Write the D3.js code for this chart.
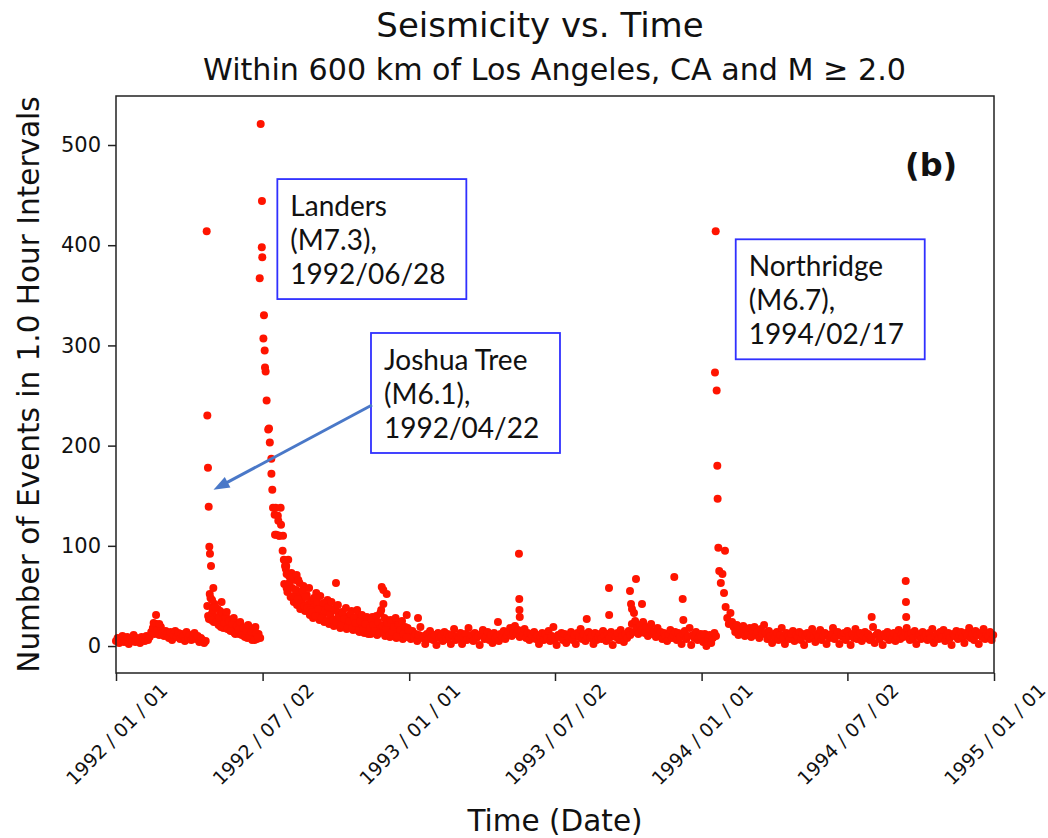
<!DOCTYPE html>
<html>
<head>
<meta charset="utf-8">
<script src="https://cdn.jsdelivr.net/npm/d3@7"></script>
<style>
  body { margin: 0; background: #fff; }
  text { font-family: "DejaVu Sans", sans-serif; fill: #111; }
  .note text { font-family: Lato, "Open Sans", sans-serif; }
</style>
</head>
<body>
<div id="container"></div>
<script>
// hourly event counts, one value every 2 days from Jan 1 of each year
var counts1992 = [
  5, 8, 3, 7, 10, 4, 6, 9, 2, 7, 5, 11, 4, 8, 6, 3, 9, 7, 5, 10, 6,
  9, 14, 18, 12, 22, 16, 11, 19, 13, 10, 15,
  12, 8, 14, 6, 11, 15, 9, 13, 7, 12, 10, 5, 14, 8, 11, 6, 9, 13, 7, 10, 4, 8, 6, 3, 5,
  40, 27, 48, 33, 24, 38,
  29, 21, 35, 25, 18, 31, 22, 27,
  16, 26, 19, 13, 23, 17, 12, 21, 14, 10,
  18, 8, 13, 16, 6, 11, 19, 7, 12,
  8, 398, 307, 278, 245, 216, 203, 172, 138, 131, 111, 130, 110, 121, 95,
  62, 77, 54, 70, 49,
  58, 44, 66, 41, 52, 37,
  47, 60, 35, 51, 42, 31,
  45, 28, 39, 53, 33, 26,
  41, 30, 24, 36, 46, 22, 33, 27,
  20, 38, 25, 31, 18, 34, 23, 28, 17, 30,
  21, 35, 16, 26, 19, 30, 14, 24, 20, 13, 27, 17,
  22, 12, 29, 16, 25, 11, 19, 33, 14, 21, 10, 26, 15,
  9, 20, 13, 24, 8, 17, 12, 22, 7, 15, 11, 18
]
var counts1993 = [
  13, 7, 15, 9, 12, 5, 11, 19, 8, 10, 2, 12, 7, 15, 9, 6, 11, 1, 13, 8,
  10, 5, 14, 7, 12, 9, 2, 11, 17, 6, 10, 8, 13, 2, 9, 12, 6, 18, 7, 11,
  5, 13, 8, 10, 1, 12, 16, 7, 9, 14, 6, 11, 3, 13, 8, 10, 5, 12, 9, 15,
  7, 11, 14, 18, 10, 13, 20, 12, 16, 9, 15, 11, 17, 8, 13, 6, 12, 10, 14, 7,
  11, 2, 9, 13, 6, 12, 8, 15, 5, 10, 19, 7, 1, 11, 9, 13, 6, 12, 3, 10,
  8, 14, 6, 11, 2, 13, 9, 17, 7, 12, 5, 10, 14, 8, 11, 2, 13, 6, 9, 12,
  7, 15, 10, 5, 12, 8, 14, 1, 11, 9, 13, 6, 16, 10, 4, 12, 8, 15, 11, 22,
  14, 25, 18, 12, 21, 16, 24, 13, 19, 10, 17, 22, 12, 15, 9, 18, 11, 14, 7, 13,
  10, 5, 12, 16, 8, 11, 14, 6, 13, 9, 2, 12, 15, 7, 10, 18, 1, 11, 8, 14, 6, 9, 12
]
var counts1994 = [
  9, 4, 12, 0, 7, 11, 3, 8, 13, 10,
  147, 75, 63, 72, 53, 39, 28, 22, 33, 24,
  19, 14, 21, 11, 17, 13, 20, 10, 16, 12, 18, 9, 15, 19, 11, 14, 8, 17, 12, 21,
  13, 7, 15, 10, 3, 12, 9, 14, 6, 11, 18, 8, 2, 13, 10, 7, 12, 15, 5, 11,
  9, 14, 6, 12, 1, 10, 13, 7, 11, 17, 8, 4, 12, 9, 16, 6, 10, 13, 2, 11,
  8, 12, 18, 7, 10, 14, 2, 11, 9, 13, 6, 15, 10, 1, 12, 8, 17, 7, 11, 13,
  5, 10, 14, 8, 12, 6, 9, 19, 3, 11, 13, 7, 10, 1, 12, 9, 14, 6, 11, 8,
  13, 5, 10, 16, 7, 12, 9, 14, 18, 11, 6, 13, 8, 15, 2, 10, 12, 7, 14, 9,
  11, 6, 13, 8, 17, 3, 10, 12, 7, 14, 9, 16, 5, 11, 13, 8, 1, 12, 10, 15,
  7, 11, 14, 9, 3, 13, 10, 18, 8, 12, 6, 15, 11, 2, 13, 9, 17, 7, 12, 10, 14, 6, 11
]

// upper scatter of the aftershock decays, every 2 days (days since 1992-01-01)
var joshuaTailStart = 115
var joshuaTail = [
  30, 52, 26, 36, 42,
  24, 37, 28, 19, 33, 23, 29, 17,
  25, 15, 22, 28, 12, 20, 16, 24, 11, 18,
  9, 15, 21, 10, 14, 17, 6, 13, 9
]
var landersTailStart = 211
var landersTail = [
  80, 58, 86, 64, 73,
  50, 69, 56, 47, 63, 43,
  55, 40, 49, 38, 58, 36,
  34, 48, 30, 44, 37, 50,
  28, 43, 35, 25, 39, 31, 44, 26,
  36, 24, 41, 29, 21, 33, 27, 38, 19, 25,
  32, 18, 28, 23, 36, 15, 25, 31, 17, 22, 29, 12,
  18, 27, 21, 15, 30, 24, 13, 36, 20, 28, 17, 23, 11,
  26, 14, 19, 28, 10, 21, 16, 25, 12, 19, 9, 16
]

// main shock spikes (days since 1992-01-01)
var joshuaTreeDays = [113.2, 114.0, 114.8, 115.7, 116.5, 117.3, 118.6, 121.5, 119.9, 131.8, 123.8, 138.2]
var joshuaTreeCounts = [414, 230, 178, 139, 99, 92, 80, 58, 46, 44, 39, 34]
var landersDays = [180.6, 182.2, 182.6, 179.4, 184.7, 185.6, 186.8, 191.0, 193.9, 195.1, 199.3, 205.5,
  202.6, 198.5, 203.5, 208.5, 209.5, 212.5, 213.0, 219.0, 225.5, 227.6, 274.6]
var landersCounts = [521, 444, 388, 367, 330, 295, 274, 217, 187, 156, 138, 138,
  125, 111, 110, 110, 86, 80, 72, 69, 71, 66, 63]
var northridgeDays = [748.6, 747.7, 749.8, 750.6, 751.9, 760.2]
var northridgeCounts = [414, 273, 255, 180, 98, 95]

// smaller bursts
var burstDays = [50, 47, 54, 331.7, 333.7, 337.9, 333.8, 362.9, 377, 476.8, 503, 503.4, 503.6, 504,
  587.6, 615.4, 615.6, 641.6, 649.1, 642.9, 644.1, 646.6, 656.6, 696.9, 707.4, 708.2, 943.3,
  985.8, 986.1, 986.4]
var burstCounts = [31, 23, 22, 59, 56, 52, 42, 31, 28, 24, 92, 47, 36, 29,
  27, 58, 31, 55, 67, 42, 37, 33, 42, 69, 47, 26, 29,
  65, 44, 29]

var tickDates = ["1992-01-01", "1992-07-02", "1993-01-01", "1993-07-02", "1994-01-01", "1994-07-02", "1995-01-01"]
var yTicks = [0, 100, 200, 300, 400, 500]

var notes = [
  {lines: ["Landers", "(M7.3),", "1992/06/28"], day: 201.4, count: 466},
  {lines: ["Joshua Tree", "(M6.1),", "1992/04/22"], day: 318.3, count: 312.4},
  {lines: ["Northridge", "(M6.7),", "1994/02/17"], day: 773.6, count: 405.9}
]

var t0 = Date.UTC(1992, 0, 1)
function dayToDate(d) { return new Date(t0 + d * 864e5) }

var points = []
;[[counts1992, 0], [counts1993, 366], [counts1994, 731]].forEach(function (yr) {
  yr[0].forEach(function (c, i) { points.push({day: yr[1] + 2 * i, count: c}) })
})
joshuaTail.forEach(function (c, i) { points.push({day: joshuaTailStart + 2 * i, count: c}) })
landersTail.forEach(function (c, i) { points.push({day: landersTailStart + 2 * i, count: c}) })
;[[joshuaTreeDays, joshuaTreeCounts], [landersDays, landersCounts],
  [northridgeDays, northridgeCounts], [burstDays, burstCounts]].forEach(function (p) {
  p[0].forEach(function (d, i) { points.push({day: d, count: p[1][i]}) })
})

var W = 1048, H = 838
var plot = {left: 116, right: 994, top: 96, bottom: 673}

var svg = d3.select("#container").append("svg")
  .attr("width", W)
  .attr("height", H)

var x = d3.scaleUtc()
  .domain([new Date(t0), new Date(Date.UTC(1995, 0, 1))])
  .range([plot.left, plot.right])
var y = d3.scaleLinear()
  .domain([-26.9, 548.9])
  .range([plot.bottom, plot.top])

// titles
svg.append("text")
  .attr("x", 540).attr("y", 37)
  .attr("text-anchor", "middle")
  .attr("font-size", 34)
  .text("Seismicity vs. Time")
svg.append("text")
  .attr("x", 203).attr("y", 80)
  .attr("font-size", 31)
  .attr("textLength", 703)
  .attr("lengthAdjust", "spacingAndGlyphs")
  .text("Within 600 km of Los Angeles, CA and M \u2265 2.0")

// points
svg.append("g").selectAll("circle")
  .data(points)
  .enter().append("circle")
    .attr("cx", function (d) { return x(dayToDate(d.day)) })
    .attr("cy", function (d) { return y(d.count) })
    .attr("r", 4)
    .attr("fill", "#ff1400")

// frame
svg.append("rect")
  .attr("x", plot.left).attr("y", plot.top)
  .attr("width", plot.right - plot.left).attr("height", plot.bottom - plot.top)
  .attr("fill", "none")
  .attr("stroke", "#222")
  .attr("stroke-width", 1.5)

// x axis
var xAxis = svg.append("g")
  .attr("transform", "translate(0," + plot.bottom + ")")
  .call(d3.axisBottom(x)
    .tickValues(tickDates.map(function (s) { return new Date(s + "T00:00:00Z") }))
    .tickSize(8)
    .tickFormat(d3.utcFormat("%Y / %m / %d")))
xAxis.select(".domain").remove()
xAxis.selectAll("line").attr("stroke", "#222").attr("stroke-width", 1.5)
xAxis.selectAll("text")
  .attr("font-size", 19)
  .attr("font-family", "DejaVu Sans")
  .attr("fill", "#111")
  .attr("text-anchor", "middle")
  .attr("dy", null)
  .attr("dominant-baseline", "central")
  .attr("y", 0)
  .attr("transform", "translate(0,61) rotate(-45)")

// y axis
var yAxis = svg.append("g")
  .attr("transform", "translate(" + plot.left + ",0)")
  .call(d3.axisLeft(y).tickValues(yTicks).tickSize(8).tickPadding(7))
yAxis.select(".domain").remove()
yAxis.selectAll("line").attr("stroke", "#222").attr("stroke-width", 1.5)
yAxis.selectAll("text")
  .attr("font-size", 21)
  .attr("font-family", "DejaVu Sans")
  .attr("fill", "#111")

svg.append("text")
  .attr("x", 555).attr("y", 831)
  .attr("text-anchor", "middle")
  .attr("font-size", 29.5)
  .text("Time (Date)")
svg.append("text")
  .attr("transform", "translate(39," + ((plot.top + plot.bottom) / 2) + ") rotate(-90)")
  .attr("text-anchor", "middle")
  .attr("font-size", 29.5)
  .text("Number of Events in 1.0 Hour Intervals")

// annotations
var boxW = 189, boxH = 120
var note = svg.selectAll(".note")
  .data(notes)
  .enter().append("g")
    .attr("class", "note")
    .attr("transform", function (d) { return "translate(" + x(dayToDate(d.day)) + "," + y(d.count) + ")" })
note.append("rect")
  .attr("width", boxW).attr("height", boxH)
  .attr("fill", "#fff")
  .attr("stroke", "#3030ff")
  .attr("stroke-width", 1.8)
note.each(function (d) {
  var g = d3.select(this)
  d.lines.forEach(function (s, i) {
    g.append("text")
      .attr("x", 13).attr("y", 37 + i * 34)
      .attr("font-size", 28)
      .text(s)
  })
})

svg.append("text")
  .attr("x", x(dayToDate(985))).attr("y", y(469))
  .attr("font-family", "Lato, sans-serif")
  .attr("font-weight", "bold")
  .attr("font-size", 32)
  .text("(b)")

// arrow to Joshua Tree
var ax0 = x(dayToDate(319.6)), ay0 = y(240.5)
var ax1 = x(dayToDate(121.7)), ay1 = y(156)
var ang = Math.atan2(ay1 - ay0, ax1 - ax0)
var headL = 16, headW = 6
svg.append("line")
  .attr("x1", ax0).attr("y1", ay0)
  .attr("x2", ax1 - Math.cos(ang) * (headL - 2)).attr("y2", ay1 - Math.sin(ang) * (headL - 2))
  .attr("stroke", "#4a78c8")
  .attr("stroke-width", 3)
var bx = ax1 - Math.cos(ang) * headL, by = ay1 - Math.sin(ang) * headL
svg.append("path")
  .attr("d", d3.line()([
    [ax1, ay1],
    [bx + Math.sin(ang) * headW, by - Math.cos(ang) * headW],
    [bx - Math.sin(ang) * headW, by + Math.cos(ang) * headW]
  ]) + "Z")
  .attr("fill", "#4a78c8")
</script>
</body>
</html>
